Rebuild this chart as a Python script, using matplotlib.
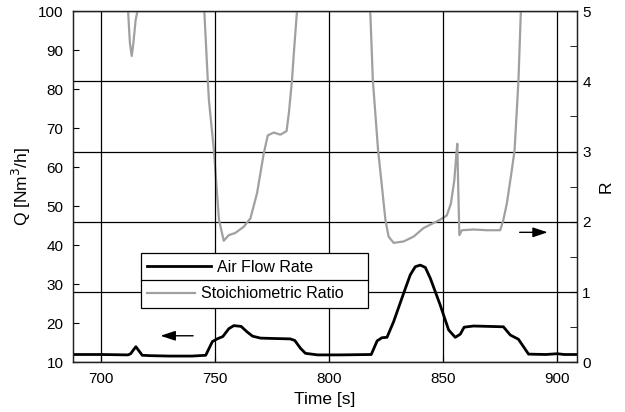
from matplotlib import pyplot as plt
import numpy as np

plt.rcParams['font.family'] = ['Liberation Sans', 'DejaVu Sans']

# air flow rate Q [Nm3/h] (left axis)
t_air = [688, 700, 712, 713.1, 715.4, 718.2, 722, 730, 740, 746, 748.9, 751, 753.5, 756.1,
         758.3, 761.5, 764.1, 766.5, 770, 776, 783, 785, 787.5, 789.7, 795, 805, 818.5,
         821.1, 823.2, 825.4, 828.3, 832.7, 835.6, 837.8, 840, 842.2, 844.4, 848.7, 852.4,
         855.3, 857.5, 859.2, 863.3, 870, 876.4, 879.4, 883, 885.2, 887.4, 895, 900, 903, 908.5]
q_air = [12.0, 12.0, 11.9, 12.2, 14.0, 11.8, 11.7, 11.6, 11.6, 11.8, 15.3, 16.0, 16.6, 18.6,
         19.4, 19.2, 17.8, 16.7, 16.2, 16.1, 16.0, 15.6, 13.6, 12.3, 11.9, 11.9, 12.0,
         15.5, 16.3, 16.4, 20.4, 27.7, 32.4, 34.5, 34.9, 34.3, 31.5, 24.7, 18.3,
         16.4, 17.2, 19.0, 19.3, 19.2, 19.1, 17.0, 15.9, 14.0, 12.1, 12.0, 12.2, 12.0, 12.0]

# stoichiometric ratio R (right axis), NaN where it runs off the top
t_ratio = [711.9, 712.8, 713.6, 714.3, 715.3, 716.4, np.nan,
           745.3, 746.9, 747.4, 749.6, 751.8, 753.9, 756.1, 758.9, 762.7, 765.6, 768.5,
           771.4, 773.2, 775.8, 778.7, 781.4, 782.4, 783.8, 784.6, 786.1, np.nan,
           818.0, 818.5, 819.2, 821.5, 823.2, 824.7, 826.1, 828.3, 832.7, 837.1, 841.4,
           844.4, 848.7, 851.6, 853.4, 854.9, 855.7, 856.2, 856.6, 857.1, 858.2, 863.3,
           869.1, 875.0, 876.4, 877.9, 880.1, 881.3, 883.0, 884.1]
r_ratio = [5.05, 4.54, 4.36, 4.54, 4.87, 5.05, np.nan,
           5.05, 4.02, 3.73, 3.01, 2.03, 1.73, 1.81, 1.84, 1.93, 2.05, 2.41,
           2.97, 3.23, 3.27, 3.24, 3.29, 3.54, 4.02, 4.40, 5.05, np.nan,
           5.05, 4.63, 4.02, 3.02, 2.50, 2.03, 1.79, 1.70, 1.72, 1.79, 1.91,
           1.96, 2.03, 2.09, 2.26, 2.59, 2.93, 3.11, 2.50, 1.81, 1.88, 1.89,
           1.88, 1.88, 2.03, 2.26, 2.74, 3.02, 4.02, 5.05]

x_ticks = [700, 750, 800, 850, 900]
q_ticks = [10, 20, 30, 40, 50, 60, 70, 80, 90, 100]
r_ticks = [0, 1, 2, 3, 4, 5]

fig = plt.figure(figsize=(6.25, 4.12), dpi=100)
ax = fig.add_axes([0.1173, 0.1206, 0.8054, 0.8527])
ax2 = ax.twinx()

# air flow axis on top so its legend covers the grid
ax.set_zorder(ax2.get_zorder() + 1)
ax.patch.set_visible(False)

line_air, = ax.plot(t_air, q_air, color='black', lw=2.0, label='Air Flow Rate')
line_r, = ax2.plot(t_ratio, r_ratio, color='#a0a0a0', lw=1.6, label='Stoichiometric Ratio')

ax.set_xlim(688, 908.5)
ax.set_ylim(10, 100)
ax2.set_ylim(0, 5)
ax.set_xticks(x_ticks)
ax.set_yticks(q_ticks)
ax2.set_yticks(r_ticks)
ax2.set_yticks(np.arange(0.5, 5, 1), minor=True)

ax.grid(axis='x', color='black', lw=0.9)
ax2.grid(axis='y', color='black', lw=0.9)

ax.tick_params(direction='in', length=4, labelsize=11, pad=7)
ax.tick_params(axis='x', pad=7)
ax2.tick_params(direction='in', length=5, labelsize=11, pad=4)
ax2.tick_params(which='minor', direction='in', length=5)

for a in (ax, ax2):
    for sp in a.spines.values():
        sp.set_linewidth(0.9)
        sp.set_color('#222222')

ax.set_xlabel('Time [s]', fontsize=12.5, labelpad=4)
ax.set_ylabel('Q [Nm$^3$/h]', fontsize=12.5, labelpad=4)
ax2.set_ylabel('R', fontsize=12.5, labelpad=6)

leg_kw = dict(mode='expand', loc='upper left', fontsize=11.5, fancybox=False,
              framealpha=1, edgecolor='black', borderpad=0.4, borderaxespad=0)
leg1 = ax.legend([line_air], ['Air Flow Rate'], bbox_to_anchor=(0.134, 0.31, 0.451, 0),
                 handlelength=4.0, handletextpad=0.4, **leg_kw)
leg1.get_frame().set_linewidth(0.9)
ax.add_artist(leg1)
leg2 = ax.legend([line_r], ['Stoichiometric Ratio'], bbox_to_anchor=(0.134, 0.2345, 0.451, 0),
                 handlelength=3.0, handletextpad=0.35, **leg_kw)
leg2.get_frame().set_linewidth(0.9)

arrow = dict(arrowstyle='-|>,head_length=0.9,head_width=0.3', color='black', lw=1)
ax.annotate('', xy=(725, 16.8), xytext=(741.7, 16.8), arrowprops=arrow)
ax2.annotate('', xy=(897, 1.85), xytext=(882.3, 1.85), arrowprops=arrow)

fig.savefig('out.png', dpi=100)
